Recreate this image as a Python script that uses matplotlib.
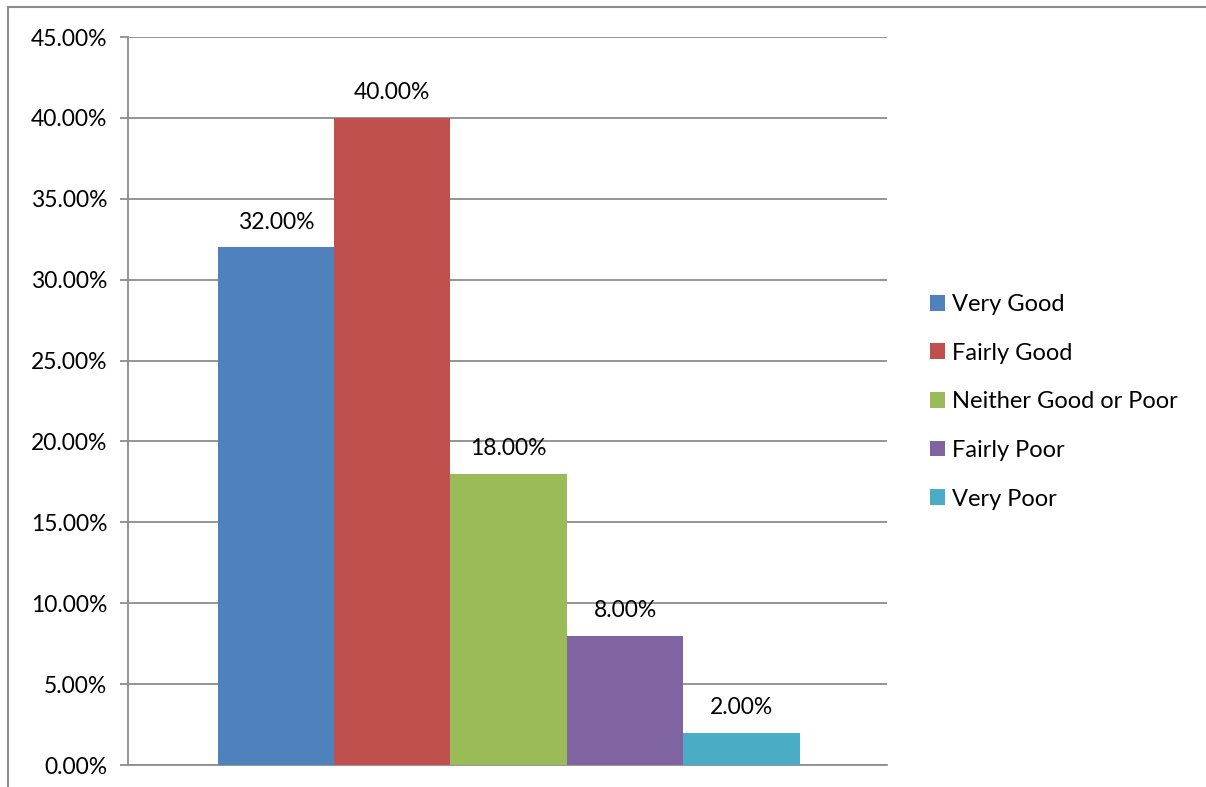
import matplotlib.pyplot as plt
from matplotlib.lines import Line2D
from matplotlib.ticker import FuncFormatter, MultipleLocator
import numpy as np

# datos de la grafica
categorias = ['Very Good', 'Fairly Good', 'Neither Good or Poor', 'Fairly Poor', 'Very Poor']
valores = [0.32, 0.40, 0.18, 0.08, 0.02]
colores = ['#4F81BD', '#C0504D', '#9BBB59', '#8064A2', '#4BACC6']

plt.rcParams['font.family'] = ['Lato', 'DejaVu Sans']

fig = plt.figure(figsize=(12.06, 7.87), dpi=100)
ax = fig.add_axes([128 / 1206, 1 - 765 / 787, (887 - 128) / 1206, (765 - 37) / 787])

# barras una junto a otra, en un solo grupo
n = len(valores)
x = np.arange(n) - (n - 1) / 2
for xi, v, c, cat in zip(x, valores, colores, categorias):
    ax.bar(xi, v, width=1.0, color=c, label=cat, zorder=3)
    ax.annotate(f'{v * 100:.2f}%', (xi, v), xytext=(0, 18), textcoords='offset points',
                ha='center', va='center', fontsize=16.5, color='black')

ax.set_xlim(-n / 2 - 0.77, n / 2 + 0.75)
ax.set_ylim(0, 0.45)
ax.yaxis.set_major_locator(MultipleLocator(0.05))
ax.yaxis.set_major_formatter(FuncFormatter(lambda v, p: f'{v * 100:.2f}%'))
ax.set_xticks([])

# rejilla y ejes
ax.grid(axis='y', color='#8c8c8c', linewidth=1.3, zorder=0)
for s in ['top', 'right']:
    ax.spines[s].set_visible(False)
ax.spines['left'].set_color('#8c8c8c')
ax.spines['left'].set_linewidth(1.3)
ax.spines['bottom'].set_color('#8c8c8c')
ax.spines['bottom'].set_linewidth(1.3)
ax.tick_params(axis='y', length=6, width=1.3, color='#8c8c8c', labelsize=16.5, pad=9)

leg = fig.legend(loc='upper left', bbox_to_anchor=(930 / 1206, 1 - 294 / 787), frameon=False,
                 fontsize=17, handlelength=0.65, handleheight=0.65, handletextpad=0.3,
                 labelspacing=1.17, borderaxespad=0, borderpad=0)

# borde exterior del grafico
fig.add_artist(Line2D([8 / 1206, 1], [1 - 7 / 787, 1 - 7 / 787], transform=fig.transFigure,
                      color='#8c8c8c', linewidth=1.5))
fig.add_artist(Line2D([8 / 1206, 8 / 1206], [0, 1 - 7 / 787], transform=fig.transFigure,
                      color='#8c8c8c', linewidth=1.5))

fig.savefig('out.png', dpi=100)
